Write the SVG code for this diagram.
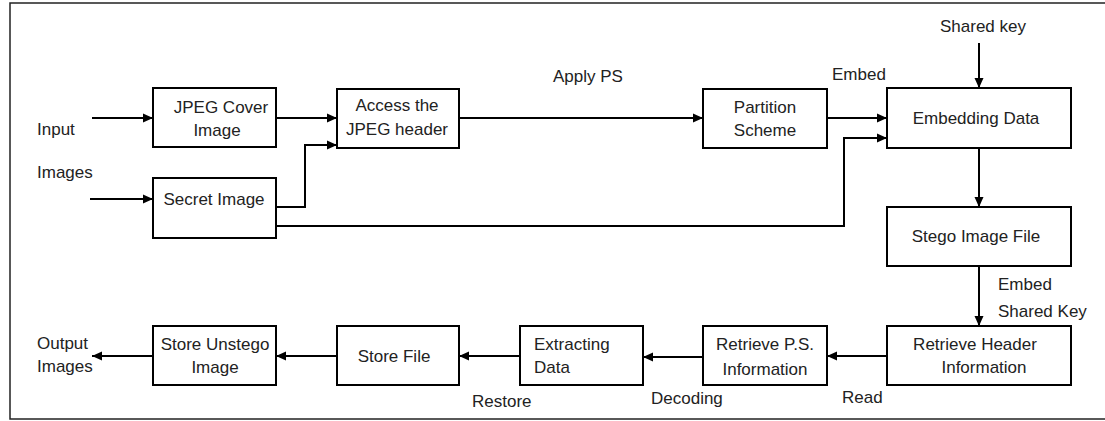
<svg xmlns="http://www.w3.org/2000/svg" width="1105" height="421" viewBox="0 0 1105 421">
<style>
.box{fill:#fff;stroke:#000;stroke-width:2}
.ln{fill:none;stroke:#000;stroke-width:2}
text{font-family:"Liberation Sans",Arial,sans-serif;font-size:17px;fill:#222}
.c{text-anchor:middle}
</style>
<defs>
<marker id="ah" markerWidth="10" markerHeight="10" refX="10" refY="5" orient="auto" markerUnits="userSpaceOnUse">
<path d="M0,0.5 L10,5 L0,9.5 Z" fill="#000"/>
</marker>
</defs>
<rect x="10" y="3" width="1105" height="416" fill="#fff" stroke="#222" stroke-width="1.5"/>

<g id="connectors">
<path class="ln" d="M92,118 H153" marker-end="url(#ah)"/>
<path class="ln" d="M90,199 H153" marker-end="url(#ah)"/>
<path class="ln" d="M276,118 H337" marker-end="url(#ah)"/>
<path class="ln" d="M276,207 H305 V145 H337" marker-end="url(#ah)"/>
<path class="ln" d="M276,226 H844 V138 H887" marker-end="url(#ah)"/>
<path class="ln" d="M459,118 H703" marker-end="url(#ah)"/>
<path class="ln" d="M827,118 H887" marker-end="url(#ah)"/>
<path class="ln" d="M979,43 V88" marker-end="url(#ah)"/>
<path class="ln" d="M979,148 V207" marker-end="url(#ah)"/>
<path class="ln" d="M979,266 V326" marker-end="url(#ah)"/>
<path class="ln" d="M887,356 H827" marker-end="url(#ah)"/>
<path class="ln" d="M703,357 H643" marker-end="url(#ah)"/>
<path class="ln" d="M520,356 H459" marker-end="url(#ah)"/>
<path class="ln" d="M337,356 H276" marker-end="url(#ah)"/>
<path class="ln" d="M153,356 H92" marker-end="url(#ah)"/>
<text x="553" y="82">Apply PS</text>
<text x="832" y="80">Embed</text>
<text x="998" y="290">Embed</text>
<text x="998" y="317">Shared Key</text>
<text x="842" y="403">Read</text>
<text x="651" y="404">Decoding</text>
<text x="472" y="407">Restore</text>
</g>

<g id="input-label"><text x="37" y="135">Input</text><text x="37" y="178">Images</text></g>
<g id="output-label"><text x="37" y="349">Output</text><text x="37" y="372">Images</text></g>
<g id="shared-key"><text class="c" x="983" y="32">Shared key</text></g>

<g id="jpeg-cover"><rect class="box" x="153" y="88" width="123" height="59"/><text class="c" x="221" y="113">JPEG Cover</text><text class="c" x="217" y="136">Image</text></g>
<g id="access-header"><rect class="box" x="337" y="89" width="122" height="59"/><text class="c" x="397" y="111">Access the</text><text class="c" x="397" y="135">JPEG header</text></g>
<g id="secret-image"><rect class="box" x="153" y="178" width="123" height="60"/><text class="c" x="214" y="205">Secret Image</text></g>
<g id="partition-scheme"><rect class="box" x="703" y="89" width="124" height="59"/><text class="c" x="765" y="113">Partition</text><text class="c" x="765" y="136">Scheme</text></g>
<g id="embedding-data"><rect class="box" x="887" y="88" width="184" height="60"/><text class="c" x="976" y="124">Embedding Data</text></g>
<g id="stego-file"><rect class="box" x="887" y="207" width="184" height="59"/><text class="c" x="976" y="242">Stego Image File</text></g>
<g id="retrieve-header"><rect class="box" x="887" y="326" width="184" height="59"/><text class="c" x="975" y="350">Retrieve Header</text><text class="c" x="984" y="373">Information</text></g>
<g id="retrieve-ps"><rect class="box" x="703" y="326" width="124" height="59"/><text class="c" x="765" y="350">Retrieve P.S.</text><text class="c" x="765" y="375">Information</text></g>
<g id="extracting-data"><rect class="box" x="520" y="326" width="123" height="59"/><text x="534" y="350">Extracting</text><text x="534" y="373">Data</text></g>
<g id="store-file"><rect class="box" x="337" y="326" width="122" height="59"/><text class="c" x="394" y="362">Store File</text></g>
<g id="store-unstego"><rect class="box" x="153" y="326" width="123" height="59"/><text class="c" x="215" y="350">Store Unstego</text><text class="c" x="215" y="373">Image</text></g>
</svg>
